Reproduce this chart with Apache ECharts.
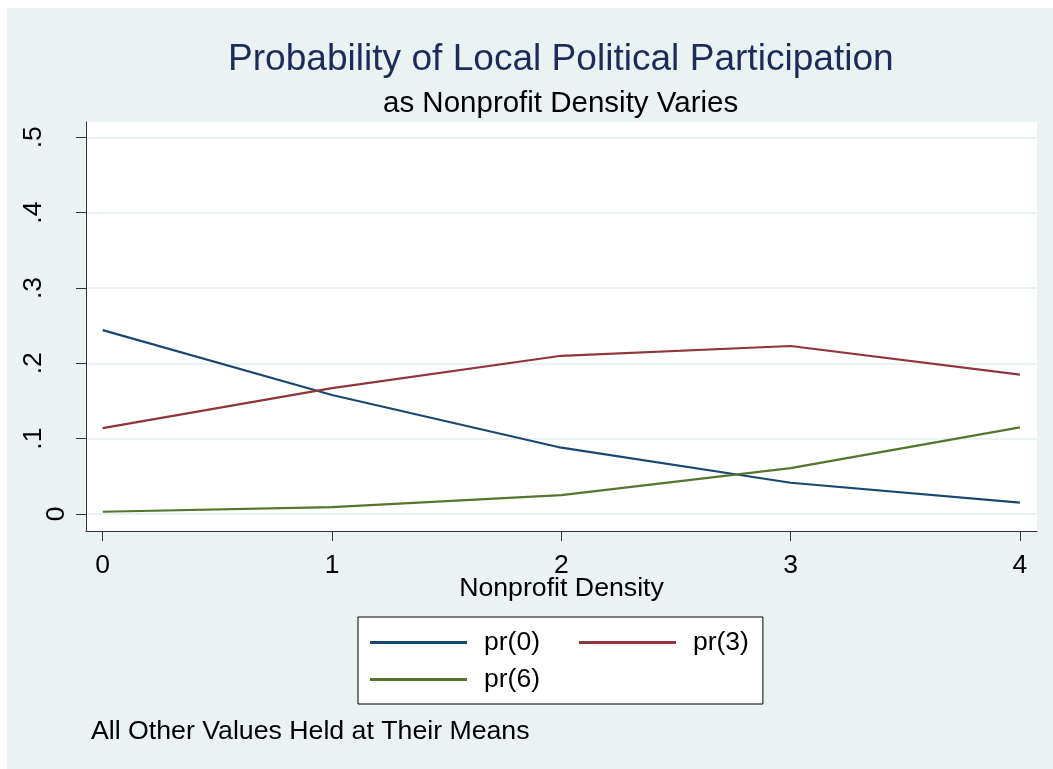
<!DOCTYPE html>
<html>
<head>
<meta charset="utf-8">
<script src="https://cdn.jsdelivr.net/npm/echarts@6/dist/echarts.min.js"></script>
<style>
html,body{margin:0;padding:0;background:#ffffff;}
#chart{position:absolute;left:7px;top:8px;width:1046px;height:761px;}
</style>
</head>
<body>
<div id="chart"></div>
<script>
// Data
const xValues = [0, 1, 2, 3, 4];
const pr0 = [0.244, 0.158, 0.088, 0.0415, 0.015];
const pr3 = [0.114, 0.167, 0.210, 0.223, 0.185];
const pr6 = [0.003, 0.009, 0.025, 0.061, 0.115];
const seriesNames = ['pr(0)', 'pr(3)', 'pr(6)'];
const xTicks = [0, 1, 2, 3, 4];
const yTicks = [0, 0.1, 0.2, 0.3, 0.4, 0.5];

const FONT = '"Liberation Sans", Arial, Helvetica, sans-serif';
const colors = ['#1a476f', '#90353b', '#55752f'];

function pairs(ys) { return xValues.map((x, i) => [x, ys[i]]); }

const legendCommon = {
  icon: 'rect', itemWidth: 97, itemHeight: 3,
  textStyle: {fontFamily: FONT, fontSize: 26.5, color: '#000', padding: [0, 0, 0, 12]}
};

const chart = echarts.init(document.getElementById('chart'), null, {renderer: 'canvas'});
const option = {
  animation: false,
  backgroundColor: '#eaf2f3',
  textStyle: {fontFamily: FONT},
  title: [
    {text: 'Probability of Local Political Participation', left: 221, top: 33, padding: 0,
     textStyle: {fontFamily: FONT, fontSize: 37.1, fontWeight: 'normal', color: '#1c2b5a'}},
    {text: 'as Nonprofit Density Varies', left: 376, top: 81, padding: 0,
     textStyle: {fontFamily: FONT, fontSize: 29.5, fontWeight: 'normal', color: '#000'}},
    {text: 'All Other Values Held at Their Means', left: 84, top: 710, padding: 0,
     textStyle: {fontFamily: FONT, fontSize: 26.7, fontWeight: 'normal', color: '#000'}}
  ],
  grid: {left: 79, top: 114, right: 16, bottom: 238, show: true, backgroundColor: '#ffffff', borderWidth: 0},
  xAxis: {
    type: 'value', min: -0.0728, max: 4.0745,
    name: 'Nonprofit Density', nameLocation: 'middle', nameGap: 44, nameMoveOverlap: false,
    nameTextStyle: {fontFamily: FONT, fontSize: 26.7, color: '#000'},
    axisLine: {show: true, onZero: false, lineStyle: {color: '#333', width: 1}},
    axisTick: {show: true, customValues: xTicks, length: 10, lineStyle: {color: '#333'}},
    axisLabel: {customValues: xTicks, margin: 21, fontFamily: FONT, fontSize: 26.5, color: '#000'},
    splitLine: {show: false}
  },
  yAxis: {
    type: 'value', min: -0.02256, max: 0.5203,
    axisLine: {show: true, onZero: false, lineStyle: {color: '#333', width: 1}},
    axisTick: {show: true, customValues: yTicks, length: 10, lineStyle: {color: '#333'}},
    axisLabel: {customValues: yTicks, margin: 16, rotate: 90, fontFamily: FONT, fontSize: 26.5, color: '#000',
      formatter: v => (v === 0 ? '{z|0}' : '{d|' + String(Math.round(v * 10) / 10).replace(/^0/, '') + '}'),
      rich: {
        z: {fontFamily: FONT, fontSize: 26.5, color: '#000'},
        d: {fontFamily: FONT, fontSize: 26.5, color: '#000', padding: [0, 0, 23, 0]}
      }},
    splitLine: {show: true, lineStyle: {color: '#eaf2f3', width: 2}}
  },
  legend: [
    Object.assign({}, legendCommon, {
      left: 351, top: 609, z: 4,
      padding: [12, 14, 48, 12],
      backgroundColor: '#ffffff', borderColor: '#000', borderWidth: 1,
      itemGap: 39,
      data: [seriesNames[0], seriesNames[1]]
    }),
    Object.assign({}, legendCommon, {
      left: 363, top: 658, z: 6, padding: 0,
      data: [seriesNames[2]]
    })
  ],
  series: [
    {name: seriesNames[0], type: 'line', data: pairs(pr0), symbol: 'none', lineStyle: {color: colors[0], width: 2.2}, itemStyle: {color: colors[0]}},
    {name: seriesNames[1], type: 'line', data: pairs(pr3), symbol: 'none', lineStyle: {color: colors[1], width: 2.2}, itemStyle: {color: colors[1]}},
    {name: seriesNames[2], type: 'line', data: pairs(pr6), symbol: 'none', lineStyle: {color: colors[2], width: 2.2}, itemStyle: {color: colors[2]}}
  ]
};
chart.setOption(option);
</script>
</body>
</html>
